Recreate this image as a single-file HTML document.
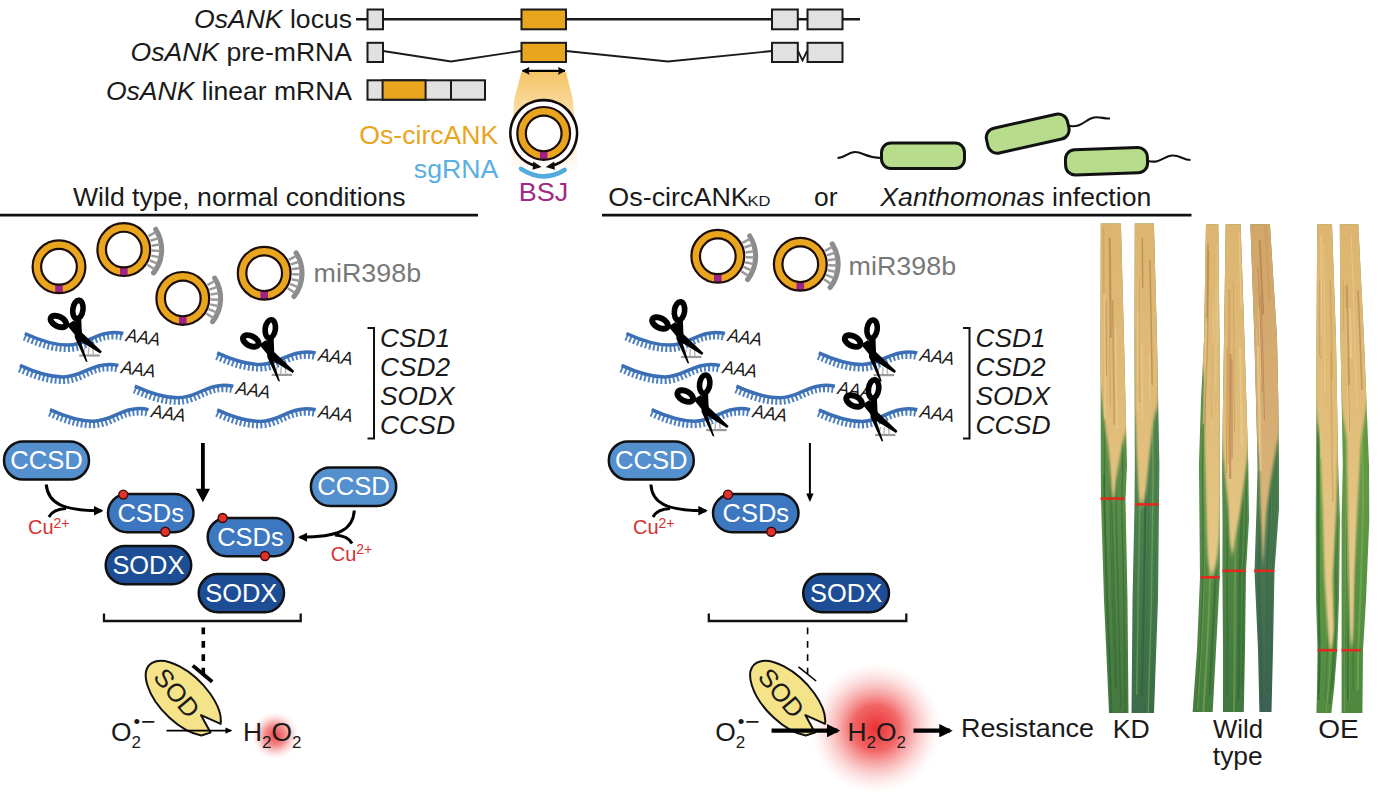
<!DOCTYPE html>
<html><head><meta charset="utf-8"><title>Os-circANK model</title>
<style>
html,body{margin:0;padding:0;background:#fff}
svg{display:block}
text{font-family:"Liberation Sans",sans-serif;font-size:26.4px;fill:#1a1a1a}
.i{font-style:italic}
.w{fill:#fff}
</style></head><body>
<svg width="1380" height="810" viewBox="0 0 1380 810">
<defs>
<marker id="ah" viewBox="0 0 10 10" refX="8" refY="5" markerWidth="4.2" markerHeight="4.2" orient="auto-start-reverse"><path d="M0,0 L10,5 L0,10 z" fill="#000"/></marker>
<marker id="ah2" viewBox="0 0 10 10" refX="8" refY="5" markerWidth="3.2" markerHeight="3.2" orient="auto-start-reverse"><path d="M0,0 L10,5 L0,10 z" fill="#000"/></marker>
<marker id="ah3" viewBox="0 0 10 10" refX="6" refY="5" markerWidth="7" markerHeight="7" orient="auto-start-reverse"><path d="M0,0 L10,5 L0,10 z" fill="#000"/></marker>
<marker id="ah4" viewBox="0 0 10 10" refX="9" refY="5" markerWidth="3.4" markerHeight="3.4" orient="auto-start-reverse"><path d="M0,0 L10,5 L0,10 L1.5,5 z" fill="#000"/></marker>
<marker id="ah5" viewBox="0 0 10 10" refX="8" refY="5" markerWidth="3.8" markerHeight="3.6" orient="auto-start-reverse"><path d="M0,0.5 L10,5 L0,9.5 z" fill="#000"/></marker>
<linearGradient id="fan" x1="0" y1="0" x2="0" y2="1"><stop offset="0" stop-color="#F5C466"/><stop offset="0.35" stop-color="#F9DA9E"/><stop offset="0.75" stop-color="#FDF0D8"/><stop offset="1" stop-color="#FFFFFF"/></linearGradient>
<radialGradient id="glow"><stop offset="0" stop-color="#E8262A" stop-opacity="0.95"/><stop offset="0.35" stop-color="#EE4040" stop-opacity="0.8"/><stop offset="0.7" stop-color="#F58080" stop-opacity="0.35"/><stop offset="1" stop-color="#FFCCCC" stop-opacity="0"/></radialGradient>
<radialGradient id="glow2"><stop offset="0" stop-color="#E83A3A" stop-opacity="0.95"/><stop offset="0.45" stop-color="#F06060" stop-opacity="0.7"/><stop offset="1" stop-color="#FFCCCC" stop-opacity="0"/></radialGradient>

<g id="ring"><circle r="22.1" fill="none" stroke="#E9A51E" stroke-width="7.6"/><rect x="-3.8" y="18" width="7.6" height="8" fill="#A0218A"/><circle r="26.4" fill="none" stroke="#1c0d08" stroke-width="2.2"/><circle r="17.85" fill="none" stroke="#1c0d08" stroke-width="2.2"/></g>
<g id="mir"><path d="M31.9,-20.3 A37.8,37.8 0 0 1 29.8,23.3" fill="none" stroke="#8C8C8C" stroke-width="5.1" stroke-linecap="round"/><path d="M24.6,-13.4L32.1,-17.4M26.6,-8.8L34.7,-11.5M27.7,-3.9L36.1,-5.1M28.0,1.0L36.5,1.3M27.4,6.0L35.7,7.8M25.9,10.7L33.7,14.0M23.6,15.1L30.7,19.7" stroke="#9A9A9A" stroke-width="2.5" fill="none"/></g>
<g id="strand"><path d="M0,0 C12,5.5 27,11.6 43,11.6 C62,11.6 70,-1 89,-1 C93,-1 96,-0.6 98.5,0" transform="translate(-0.7,3.9)" fill="none" stroke="#4C80C2" stroke-width="6.2" stroke-dasharray="1.95 2.2"/><path d="M0,0 C12,5.5 27,11.6 43,11.6 C62,11.6 70,-1 89,-1 C93,-1 96,-0.6 98.5,0" fill="none" stroke="#3B6FB5" stroke-width="3.5"/><text class="i" transform="translate(100.5,7.5) rotate(8)" style="font-size:18.5px" textLength="34.5" lengthAdjust="spacingAndGlyphs">AAA</text></g>
<g id="sc"><path d="M54.5,22 L75,22" stroke="#9a9a9a" stroke-width="2.2"/><path d="M60,14L58.5,21M64,14L63.5,21M68,13L68.5,21" stroke="#b5b5b5" stroke-width="1.4"/>
<ellipse cx="53.1" cy="-24" rx="5.1" ry="9.2" transform="rotate(8 53.1 -24)" fill="none" stroke="#000" stroke-width="5.6"/>
<ellipse cx="33.6" cy="-12" rx="8.4" ry="4.9" transform="rotate(27 33.6 -12)" fill="none" stroke="#000" stroke-width="5.9"/>
<path d="M50,-15 L56.5,-14 L57,-1 L77,18 L75.5,20 L56,8 L62.8,28.5 L61,28 L50,4 Z" fill="#000"/>
<path d="M42,-8.5 L49,-13 L57,-2 L54,6 Z" fill="#000"/></g>
</defs>
<rect width="1380" height="810" fill="#fff"/>
<g stroke="#1a1a1a" stroke-width="2" fill="none">
<path d="M356,19.3 H860" stroke-width="2.5"/>
<path d="M383,51 L451,61.5 L521,51 M566,51 L668,61.5 L772,51 M798,51 L802.5,60.5 L807,51" stroke-width="1.8"/>
<g stroke-width="2">
<rect x="367.5" y="9.5" width="15.5" height="19.8" fill="#E1E1E1"/>
<rect x="521.5" y="9.5" width="44.5" height="19.8" fill="#E9A51E"/>
<rect x="772" y="9.5" width="25.8" height="19.8" fill="#E1E1E1"/>
<rect x="807.5" y="9.5" width="35" height="19.8" fill="#E1E1E1"/>
<rect x="367.5" y="42.8" width="15.5" height="19.2" fill="#E1E1E1"/>
<rect x="521.5" y="42.8" width="44.5" height="19.2" fill="#E9A51E"/>
<rect x="772" y="42.8" width="25.8" height="19.2" fill="#E1E1E1"/>
<rect x="807.5" y="42.8" width="35" height="19.2" fill="#E1E1E1"/>
<rect x="367.5" y="80.3" width="117.5" height="19.4" fill="#E1E1E1"/>
<rect x="382.6" y="80.3" width="43" height="19.4" fill="#E9A51E"/>
<path d="M451,80.3 V99.7"/>
</g>
</g>
<path d="M521.5,72 L566,72 L573,100 L578,172 L511,172 L514,100 Z" fill="url(#fan)"/>
<path d="M522.5,70.8 H565" stroke="#000" stroke-width="2.3" marker-start="url(#ah4)" marker-end="url(#ah4)" fill="none"/>
<text x="352" y="28.4" text-anchor="end" textLength="158" lengthAdjust="spacingAndGlyphs"><tspan class="i">OsANK</tspan> locus</text>
<text x="352" y="60.9" text-anchor="end" textLength="221.5" lengthAdjust="spacingAndGlyphs"><tspan class="i">OsANK</tspan> pre-mRNA</text>
<text x="352" y="99.6" text-anchor="end" textLength="246" lengthAdjust="spacingAndGlyphs"><tspan class="i">OsANK</tspan> linear mRNA</text>
<circle cx="543.7" cy="133.4" r="33.3" fill="#fff"/>
<use href="#ring" x="543.7" y="133.4"/>
<path d="M534.5,165.4 A33.3,33.3 0 1 1 552.9,165.4" fill="none" stroke="#120a0a" stroke-width="2.7"/>
<path d="M541.6,166.9 L533.2,161.6 L532.6,169.8 Z M545.8,166.9 L554.2,161.6 L554.8,169.8 Z" fill="#120a0a"/>
<path d="M521,168.8 Q543,183.2 564.6,170" fill="none" stroke="#52AADD" stroke-width="4.6" stroke-linecap="round"/>
<text x="498.3" y="144.2" text-anchor="end" style="fill:#E9A51E" textLength="139" lengthAdjust="spacingAndGlyphs">Os-circANK</text>
<text x="498.3" y="177.8" text-anchor="end" style="fill:#5AAFE1" textLength="84.5" lengthAdjust="spacingAndGlyphs">sgRNA</text>
<text x="543.5" y="201.3" text-anchor="middle" style="fill:#A12A83" textLength="49.5" lengthAdjust="spacingAndGlyphs">BSJ</text>
<path d="M0,215.2 H478 M602,215.2 H1191.5" stroke="#111" stroke-width="2.8"/>
<text x="73" y="205.7" textLength="332.5" lengthAdjust="spacingAndGlyphs">Wild type, normal conditions</text>
<text x="608.3" y="205.7" textLength="140.5" lengthAdjust="spacingAndGlyphs">Os-circANK</text>
<text x="747.5" y="205.7" style="font-size:15.5px" textLength="23" lengthAdjust="spacingAndGlyphs">KD</text>
<text x="814" y="205.7">or</text>
<text x="880.3" y="205.7" textLength="271" lengthAdjust="spacingAndGlyphs"><tspan class="i">Xanthomonas</tspan> infection</text>
<g fill="none" stroke="#111" stroke-width="2.1">
<path d="M837.5,158 C845,158 848,152 855,152 C863,152 866,158 881,158"/>
<path d="M1067,125.5 C1082,129 1085,119 1094,117.5 C1100,116.5 1104,119 1110,118.5"/>
<path d="M1148,161 C1160,164 1164,156 1172,155.5 C1180,155 1183,160 1190.5,160"/>
</g>
<g fill="#B6DC8C" stroke="#111" stroke-width="3">
<rect x="881.5" y="143" width="83" height="25.5" rx="9.5"/>
<rect x="-41.5" y="-12.7" width="83" height="25.4" rx="9.5" transform="translate(1027.7,133.6) rotate(-12.6)"/>
<rect x="-41" y="-12.6" width="82" height="25.2" rx="9.5" transform="translate(1106.5,161.3) rotate(-2)"/>
</g>
<use href="#ring" x="59" y="266.8"/>
<use href="#mir" x="123.8" y="249.6"/>
<use href="#ring" x="123.8" y="249.6"/>
<use href="#mir" x="182.8" y="298.4"/>
<use href="#ring" x="182.8" y="298.4"/>
<use href="#mir" x="264.2" y="273.2"/>
<use href="#ring" x="264.2" y="273.2"/>
<text x="313.6" y="282.2" style="fill:#787878" textLength="107.5" lengthAdjust="spacingAndGlyphs">miR398b</text>
<g transform="translate(0,0)">
<use href="#strand" x="24.8" y="333.5"/>
<use href="#strand" x="19.9" y="365.4"/>
<use href="#strand" x="134.8" y="386.2"/>
<use href="#strand" x="50" y="409.6"/>
<use href="#strand" x="217.2" y="352.9"/>
<use href="#strand" x="217.2" y="409.8"/>
<use href="#sc" x="24.8" y="333.5"/>
<use href="#sc" x="217.2" y="352.9"/>
</g>
<use href="#mir" x="717.8" y="256.3"/>
<use href="#ring" x="717.8" y="256.3"/>
<use href="#mir" x="800.3" y="264.2"/>
<use href="#ring" x="800.3" y="264.2"/>
<text x="848.6" y="275.2" style="fill:#787878" textLength="107.5" lengthAdjust="spacingAndGlyphs">miR398b</text>
<g transform="translate(601.6,0)">
<use href="#strand" x="24.8" y="333.5"/>
<use href="#strand" x="19.9" y="365.4"/>
<use href="#strand" x="134.8" y="386.2"/>
<use href="#strand" x="50" y="409.6"/>
<use href="#strand" x="217.2" y="352.9"/>
<use href="#strand" x="217.2" y="409.8"/>
<use href="#sc" x="24.8" y="335.0"/>
<use href="#sc" x="50.0" y="408.1"/>
<use href="#sc" x="217.4" y="353.1"/>
<use href="#sc" x="218.9" y="413.0"/>
</g>
<g transform="translate(0,0)"><path d="M367.5,328 H374 V438.5 H367.5" fill="none" stroke="#111" stroke-width="2"/>
<text class="i" x="380" y="346.8" textLength="70" lengthAdjust="spacingAndGlyphs">CSD1</text>
<text class="i" x="380" y="376" textLength="70" lengthAdjust="spacingAndGlyphs">CSD2</text>
<text class="i" x="380" y="404.6" textLength="74.5" lengthAdjust="spacingAndGlyphs">SODX</text>
<text class="i" x="380" y="434" textLength="75" lengthAdjust="spacingAndGlyphs">CCSD</text>
</g>
<g transform="translate(595.5,0)"><path d="M367.5,328 H374 V438.5 H367.5" fill="none" stroke="#111" stroke-width="2"/>
<text class="i" x="380" y="346.8" textLength="70" lengthAdjust="spacingAndGlyphs">CSD1</text>
<text class="i" x="380" y="376" textLength="70" lengthAdjust="spacingAndGlyphs">CSD2</text>
<text class="i" x="380" y="404.6" textLength="74.5" lengthAdjust="spacingAndGlyphs">SODX</text>
<text class="i" x="380" y="434" textLength="75" lengthAdjust="spacingAndGlyphs">CCSD</text>
</g>
<rect x="4.0" y="441.4" width="85.0" height="38.2" rx="19.1" fill="#548FCE" stroke="#111" stroke-width="2.5"/>
<text class="w" x="46.5" y="469.1" text-anchor="middle" style="font-size:25.6px" textLength="72.5" lengthAdjust="spacingAndGlyphs">CCSD</text>
<rect x="310.9" y="467.6" width="85.3" height="38.3" rx="19.2" fill="#548FCE" stroke="#111" stroke-width="2.5"/>
<text class="w" x="353.5" y="495.4" text-anchor="middle" style="font-size:25.6px" textLength="72.5" lengthAdjust="spacingAndGlyphs">CCSD</text>
<rect x="108.0" y="493.9" width="85.5" height="38.4" rx="19.2" fill="#3D77C0" stroke="#111" stroke-width="2.5"/>
<text class="w" x="150.7" y="521.6" text-anchor="middle" style="font-size:25.6px" textLength="66.5" lengthAdjust="spacingAndGlyphs">CSDs</text>
<rect x="207.7" y="517.9" width="85.5" height="38.3" rx="19.1" fill="#3D77C0" stroke="#111" stroke-width="2.5"/>
<text class="w" x="250.4" y="545.6" text-anchor="middle" style="font-size:25.6px" textLength="66.5" lengthAdjust="spacingAndGlyphs">CSDs</text>
<rect x="105.7" y="546.0" width="85.5" height="38.3" rx="19.2" fill="#1D4E95" stroke="#111" stroke-width="2.5"/>
<text class="w" x="148.4" y="573.8" text-anchor="middle" style="font-size:25.6px" textLength="72" lengthAdjust="spacingAndGlyphs">SODX</text>
<rect x="198.7" y="574.0" width="85.3" height="38.2" rx="19.1" fill="#1D4E95" stroke="#111" stroke-width="2.5"/>
<text class="w" x="241.3" y="601.6" text-anchor="middle" style="font-size:25.6px" textLength="72" lengthAdjust="spacingAndGlyphs">SODX</text>
<circle cx="123.3" cy="494.6" r="4.5" fill="#E0312A" stroke="#3a0c0c" stroke-width="1.4"/>
<circle cx="165.3" cy="531.8" r="4.5" fill="#E0312A" stroke="#3a0c0c" stroke-width="1.4"/>
<circle cx="222.6" cy="518" r="4.5" fill="#E0312A" stroke="#3a0c0c" stroke-width="1.4"/>
<circle cx="265" cy="556" r="4.5" fill="#E0312A" stroke="#3a0c0c" stroke-width="1.4"/>
<rect x="608.8" y="441.4" width="85.0" height="38.2" rx="19.1" fill="#548FCE" stroke="#111" stroke-width="2.5"/>
<text class="w" x="651.2" y="469.1" text-anchor="middle" style="font-size:25.6px" textLength="72.5" lengthAdjust="spacingAndGlyphs">CCSD</text>
<rect x="713.0" y="493.9" width="85.5" height="38.4" rx="19.2" fill="#3D77C0" stroke="#111" stroke-width="2.5"/>
<text class="w" x="755.8" y="521.6" text-anchor="middle" style="font-size:25.6px" textLength="66.5" lengthAdjust="spacingAndGlyphs">CSDs</text>
<rect x="803.2" y="574.0" width="85.8" height="38.2" rx="19.1" fill="#1D4E95" stroke="#111" stroke-width="2.5"/>
<text class="w" x="846.1" y="601.6" text-anchor="middle" style="font-size:25.6px" textLength="72" lengthAdjust="spacingAndGlyphs">SODX</text>
<circle cx="728" cy="494.6" r="4.5" fill="#E0312A" stroke="#3a0c0c" stroke-width="1.4"/>
<circle cx="771.3" cy="531.8" r="4.5" fill="#E0312A" stroke="#3a0c0c" stroke-width="1.4"/>
<path d="M202.9,443 V492" stroke="#000" stroke-width="3.8" fill="none"/><path d="M195.8,488.8 L210,488.8 L202.9,502.2 Z" fill="#000"/>
<path d="M809.9,443 V496" stroke="#000" stroke-width="2" fill="none"/><path d="M806.2,493.4 L813.6,493.4 L809.9,502 Z" fill="#000"/>
<g fill="none" stroke="#000" stroke-width="3">
<path d="M46.2,484.5 C48,503 62,510.7 101.5,510.7" marker-end="url(#ah2)"/>
<path d="M49,517 C52,511 58,509 66,508.5"/>
<path d="M354.3,510.5 C353,530 339,537.2 299.8,537.2" marker-end="url(#ah2)"/>
<path d="M352,543.5 C349,537.5 343,535.5 335,535"/>
<path d="M650.9,484.5 C652,503 666,510.7 706,510.7" marker-end="url(#ah2)"/>
<path d="M653,517 C656,511 662,509 670,508.5"/>
</g>
<text x="28" y="534" style="fill:#D63030;font-size:20px">Cu<tspan dy="-6.5" style="font-size:14px">2+</tspan></text>
<text x="330.7" y="560.5" style="fill:#D63030;font-size:20px">Cu<tspan dy="-6.5" style="font-size:14px">2+</tspan></text>
<text x="633" y="534" style="fill:#D63030;font-size:20px">Cu<tspan dy="-6.5" style="font-size:14px">2+</tspan></text>
<path d="M104,613.5 V621 H300.7 V613.5 M708.8,613.5 V621 H906.3 V613.5" fill="none" stroke="#111" stroke-width="2.3"/>
<path d="M203.3,627.5 V674" stroke="#000" stroke-width="3.6" stroke-dasharray="6.8 6.6" fill="none"/>
<path d="M192.8,665.6 L212.2,681.7" stroke="#000" stroke-width="3.8" fill="none"/>
<path d="M807.6,627.5 V674" stroke="#000" stroke-width="1.6" stroke-dasharray="6.8 6.6" fill="none"/>
<path d="M798.5,666.9 L816.1,681" stroke="#000" stroke-width="1.6" fill="none"/>
<circle cx="275.3" cy="735.5" r="24" fill="url(#glow2)"/>
<circle cx="875.5" cy="728" r="66" fill="url(#glow)"/>
<g transform="translate(0,0)">
<g transform="translate(183.3,698.3) rotate(45)"><path d="M44.5,-8.3 A47.5,23.6 0 1 0 39,13.5 L43.5,5 L24.5,-0.6 Z" fill="#F5E389" stroke="#111" stroke-width="2" stroke-linejoin="round"/></g>
<text transform="translate(177,693) rotate(50)" text-anchor="middle" y="9" style="font-size:25.5px">SOD</text>
</g>
<g transform="translate(604.4,0)">
<g transform="translate(183.3,698.3) rotate(45)"><path d="M44.5,-8.3 A47.5,23.6 0 1 0 39,13.5 L43.5,5 L24.5,-0.6 Z" fill="#F5E389" stroke="#111" stroke-width="2" stroke-linejoin="round"/></g>
<text transform="translate(177,693) rotate(50)" text-anchor="middle" y="9" style="font-size:25.5px">SOD</text>
</g>
<text x="111" y="740.5">O<tspan dy="7" style="font-size:17px">2</tspan></text>
<text x="133.5" y="728.0" style="font-size:19px">•<tspan dx="0.8" dy="2.3" style="font-size:25px">−</tspan></text>
<text x="243" y="740.5">H<tspan dy="7" style="font-size:17px">2</tspan><tspan dy="-7">O</tspan><tspan dy="7" style="font-size:17px">2</tspan></text>
<text x="715.2" y="740.5">O<tspan dy="7" style="font-size:17px">2</tspan></text>
<text x="737.7" y="728.0" style="font-size:19px">•<tspan dx="0.8" dy="2.3" style="font-size:25px">−</tspan></text>
<text x="847.4" y="740.5">H<tspan dy="7" style="font-size:17px">2</tspan><tspan dy="-7">O</tspan><tspan dy="7" style="font-size:17px">2</tspan></text>
<path d="M166.5,730.6 H231" stroke="#000" stroke-width="1.9" marker-end="url(#ah5)" fill="none"/>
<path d="M771.6,730.7 H837.5" stroke="#000" stroke-width="4.2" marker-end="url(#ah2)" fill="none"/>
<path d="M913.5,730.7 H950" stroke="#000" stroke-width="4.2" marker-end="url(#ah2)" fill="none"/>
<text x="961" y="737" textLength="133" lengthAdjust="spacingAndGlyphs">Resistance</text>
<text x="1112.8" y="737.5" textLength="37" lengthAdjust="spacingAndGlyphs">KD</text>
<text x="1238" y="737.5" text-anchor="middle" textLength="50" lengthAdjust="spacingAndGlyphs">Wild</text>
<text x="1237.8" y="765" text-anchor="middle">type</text>
<text x="1318.3" y="737.5" textLength="40.5" lengthAdjust="spacingAndGlyphs">OE</text>
<defs><filter id="bl" x="-20%" y="-5%" width="140%" height="110%"><feGaussianBlur stdDeviation="1.3 4"/></filter><linearGradient id="tang" gradientUnits="userSpaceOnUse" x1="0" y1="224" x2="0" y2="640"><stop offset="0" stop-color="#DDB56F"/><stop offset="0.45" stop-color="#E0BC78"/><stop offset="1" stop-color="#E8CE8E"/></linearGradient><linearGradient id="tang5" gradientUnits="userSpaceOnUse" x1="0" y1="224" x2="0" y2="640"><stop offset="0" stop-color="#D2A669"/><stop offset="0.5" stop-color="#D6AE74"/><stop offset="1" stop-color="#DDBF84"/></linearGradient><clipPath id="lc0"><path d="M1100.8,223.6 L1100.5,340.0 L1100.8,465.0 L1101.0,500.0 L1104.0,600.0 L1109.0,713.0 L1128.5,713.0 L1127.5,600.0 L1125.5,500.0 L1127.0,465.0 L1124.0,340.0 L1120.9,223.6 Z"/></clipPath><linearGradient id="lg0" x1="0" y1="0" x2="0" y2="1"><stop offset="0" stop-color="#5A8E48"/><stop offset="0.55" stop-color="#5A8E48"/><stop offset="1" stop-color="#44783F"/></linearGradient><clipPath id="lc1"><path d="M1134.8,223.6 L1134.5,340.0 L1134.8,465.0 L1134.5,505.0 L1132.5,600.0 L1131.5,713.0 L1154.0,713.0 L1158.0,600.0 L1159.0,505.0 L1159.4,465.0 L1157.0,340.0 L1153.9,223.6 Z"/></clipPath><linearGradient id="lg1" x1="0" y1="0" x2="0" y2="1"><stop offset="0" stop-color="#4E8350"/><stop offset="0.55" stop-color="#4E8350"/><stop offset="1" stop-color="#3B6B4A"/></linearGradient><clipPath id="lc2"><path d="M1206.0,224.3 L1204.0,340.0 L1201.0,400.0 L1198.9,465.0 L1200.0,577.0 L1197.0,650.0 L1192.6,712.0 L1212.7,712.0 L1216.0,650.0 L1219.8,577.0 L1219.8,465.0 L1219.8,400.0 L1219.5,340.0 L1218.3,224.3 Z"/></clipPath><linearGradient id="lg2" x1="0" y1="0" x2="0" y2="1"><stop offset="0" stop-color="#5C9048"/><stop offset="0.55" stop-color="#5C9048"/><stop offset="1" stop-color="#477C40"/></linearGradient><clipPath id="lc3"><path d="M1225.7,224.3 L1224.0,340.0 L1222.0,465.0 L1222.5,520.0 L1222.4,571.0 L1223.0,650.0 L1223.0,712.0 L1243.8,712.0 L1245.0,650.0 L1246.0,571.0 L1249.0,520.0 L1248.3,465.0 L1244.5,340.0 L1240.6,224.3 Z"/></clipPath><linearGradient id="lg3" x1="0" y1="0" x2="0" y2="1"><stop offset="0" stop-color="#578B46"/><stop offset="0.55" stop-color="#578B46"/><stop offset="1" stop-color="#41773F"/></linearGradient><clipPath id="lc4"><path d="M1250.4,224.3 L1254.4,338.0 L1256.0,400.0 L1257.0,440.0 L1257.5,470.0 L1256.5,509.0 L1254.5,571.0 L1258.0,650.0 L1259.4,712.0 L1271.5,712.0 L1273.0,650.0 L1274.5,571.0 L1279.0,509.0 L1279.0,470.0 L1278.8,440.0 L1278.3,400.0 L1277.0,338.0 L1269.9,224.3 Z"/></clipPath><linearGradient id="lg4" x1="0" y1="0" x2="0" y2="1"><stop offset="0" stop-color="#4E7F50"/><stop offset="0.55" stop-color="#4E7F50"/><stop offset="1" stop-color="#3C5F5A"/></linearGradient><clipPath id="lc5"><path d="M1317.2,224.3 L1316.5,340.0 L1316.0,465.0 L1315.7,520.0 L1316.0,600.0 L1317.5,650.0 L1317.0,690.0 L1316.4,713.0 L1331.3,713.0 L1334.0,690.0 L1337.2,650.0 L1339.0,600.0 L1340.0,520.0 L1338.2,465.0 L1336.0,340.0 L1332.0,224.3 Z"/></clipPath><linearGradient id="lg5" x1="0" y1="0" x2="0" y2="1"><stop offset="0" stop-color="#659C46"/><stop offset="0.55" stop-color="#659C46"/><stop offset="1" stop-color="#518A40"/></linearGradient><clipPath id="lc6"><path d="M1339.8,224.3 L1340.5,340.0 L1342.8,465.0 L1341.6,520.0 L1341.6,600.0 L1341.6,650.0 L1341.6,713.0 L1362.4,713.0 L1363.0,650.0 L1366.0,600.0 L1369.3,520.0 L1369.0,465.0 L1364.0,340.0 L1358.3,224.3 Z"/></clipPath><linearGradient id="lg6" x1="0" y1="0" x2="0" y2="1"><stop offset="0" stop-color="#619844"/><stop offset="0.55" stop-color="#619844"/><stop offset="1" stop-color="#4D873E"/></linearGradient></defs>
<g clip-path="url(#lc0)">
<rect x="1098.5" y="220" width="32.0" height="497" fill="url(#lg0)"/>
<polyline points="1109.6,419 1109.9,449 1109.9,479 1109.9,509 1110.7,539 1111.5,569 1112.2,599 1113.2,629 1114.1,659 1115.1,689" fill="none" stroke="#2E6436" stroke-width="1" opacity="0.55"/>
<polyline points="1104.2,416 1104.4,446 1104.5,476 1104.6,506 1105.5,536 1106.3,566 1107.2,596 1108.3,626 1109.5,656 1110.7,686" fill="none" stroke="#2E6436" stroke-width="1" opacity="0.55"/>
<polyline points="1121.2,383 1121.8,413 1122.5,443 1122.6,473 1121.7,503 1122.4,533 1123.0,563 1123.7,593 1124.2,623 1124.6,653 1125.0,683 1125.5,713" fill="none" stroke="#2E6436" stroke-width="1.4" opacity="0.55"/>
<polyline points="1111.2,389 1111.6,419 1111.9,449 1111.9,479 1111.8,509 1112.6,539 1113.3,569 1114.1,599 1115.0,629 1115.8,659 1116.7,689" fill="none" stroke="#2E6436" stroke-width="1.4" opacity="0.55"/>
<polyline points="1104.2,474 1104.3,504 1105.2,534 1106.0,564 1106.9,594 1108.0,624 1109.2,654 1110.4,684 1111.5,714" fill="none" stroke="#2E6436" stroke-width="2" opacity="0.55"/>
<polyline points="1116.3,437 1116.7,467 1115.9,497 1116.5,527 1117.2,557 1118.0,587 1118.7,617 1119.3,647 1120.0,677 1120.7,707" fill="none" stroke="#2E6436" stroke-width="1.4" opacity="0.55"/>
<path d="M1095.5,215.0 L1095.5,370.0 L1100.0,385.0 L1102.0,400.0 L1105.5,430.0 L1108.0,445.0 L1109.5,460.0 L1111.0,480.0 L1112.0,497.0 L1114.5,497.0 L1116.0,480.0 L1119.5,460.0 L1122.0,445.0 L1127.0,430.0 L1128.0,400.0 L1128.0,385.0 L1133.5,370.0 L1133.5,215.0 Z" fill="url(#tang)" filter="url(#bl)"/>
<polyline points="1103.6,228 1103.7,253 1103.7,278 1103.7,303 1103.8,328 1103.9,353 1104.0,378 1104.1,403" fill="none" stroke="#C89A5E" stroke-width="1.5" opacity="0.6"/>
<polyline points="1109.7,238 1110.0,263 1110.2,288 1110.5,313 1110.7,338" fill="none" stroke="#B07A4C" stroke-width="2.2" opacity="0.6"/>
<polyline points="1106.1,301 1106.2,326 1106.3,351 1106.5,376" fill="none" stroke="#B07A4C" stroke-width="1" opacity="0.6"/>
<polyline points="1112.6,300 1112.9,325 1113.3,350 1113.6,375 1114.0,400 1114.3,425" fill="none" stroke="#B98452" stroke-width="1.5" opacity="0.6"/>
<polyline points="1115.5,329 1115.9,354 1116.3,379 1116.7,404 1117.1,429" fill="none" stroke="#EBCF96" stroke-width="1.5" opacity="0.6"/>
<polyline points="1109.6,332 1109.8,357 1110.1,382 1110.4,407" fill="none" stroke="#C89A5E" stroke-width="1" opacity="0.6"/>
<polyline points="1104.3,294 1104.3,319 1104.4,344 1104.6,369 1104.7,394 1104.9,419" fill="none" stroke="#EBCF96" stroke-width="2.2" opacity="0.6"/>
</g>
<path d="M1100.5,498.6 H1124.5" stroke="#E02A1F" stroke-width="2.6"/>
<g clip-path="url(#lc1)">
<rect x="1129.5" y="220" width="31.9" height="497" fill="url(#lg1)"/>
<polyline points="1145.3,391 1145.6,421 1145.9,451 1145.9,481 1145.6,511 1145.1,541 1144.6,571 1144.1,601 1143.5,631 1142.9,661 1142.2,691" fill="none" stroke="#2E6436" stroke-width="1.4" opacity="0.55"/>
<polyline points="1139.8,395 1139.9,425 1140.1,455 1140.0,485 1139.7,515 1139.1,545 1138.5,575 1138.0,605 1137.6,635 1137.1,665 1136.7,695" fill="none" stroke="#7DB255" stroke-width="1.4" opacity="0.55"/>
<polyline points="1145.4,456 1145.3,486 1145.0,516 1144.5,546 1144.0,576 1143.5,606 1142.8,636 1142.2,666 1141.6,696" fill="none" stroke="#2E6436" stroke-width="2" opacity="0.55"/>
<polyline points="1152.3,414 1152.8,444 1153.0,474 1152.7,504 1152.3,534 1151.9,564 1151.5,594 1150.8,624 1149.9,654 1149.0,684 1148.2,714" fill="none" stroke="#7DB255" stroke-width="1.4" opacity="0.55"/>
<polyline points="1148.1,386 1148.5,416 1148.8,446 1149.0,476 1148.7,506 1148.2,536 1147.8,566 1147.3,596 1146.6,626 1145.9,656 1145.2,686" fill="none" stroke="#3A7040" stroke-width="1" opacity="0.55"/>
<polyline points="1156.0,449 1156.2,479 1155.9,509 1155.5,539 1155.1,569 1154.8,599 1153.8,629 1152.9,659 1151.9,689" fill="none" stroke="#3A7040" stroke-width="1" opacity="0.55"/>
<path d="M1126.5,215.0 L1126.5,315.0 L1134.0,330.0 L1134.5,405.0 L1135.5,420.0 L1136.5,450.0 L1137.5,470.0 L1138.5,490.0 L1139.5,503.0 L1144.0,503.0 L1146.0,490.0 L1148.0,470.0 L1150.0,450.0 L1153.5,420.0 L1158.0,405.0 L1160.0,330.0 L1164.4,315.0 L1164.4,215.0 Z" fill="url(#tang)" filter="url(#bl)"/>
<polyline points="1137.8,311 1137.8,336 1137.9,361 1138.1,386 1138.2,411" fill="none" stroke="#EBCF96" stroke-width="1.5" opacity="0.6"/>
<polyline points="1141.9,344 1142.1,369 1142.3,394 1142.5,419" fill="none" stroke="#EBCF96" stroke-width="1.5" opacity="0.6"/>
<polyline points="1142.3,238 1142.5,263 1142.7,288" fill="none" stroke="#B07A4C" stroke-width="1.5" opacity="0.6"/>
<polyline points="1138.9,277 1138.9,302 1139.0,327 1139.1,352 1139.3,377 1139.4,402" fill="none" stroke="#C89A5E" stroke-width="1.5" opacity="0.6"/>
<polyline points="1138.1,277 1138.1,302 1138.2,327 1138.3,352 1138.4,377" fill="none" stroke="#EBCF96" stroke-width="1" opacity="0.6"/>
<polyline points="1149.9,260 1150.4,285 1150.9,310 1151.4,335 1151.8,360 1152.2,385" fill="none" stroke="#B07A4C" stroke-width="1.5" opacity="0.6"/>
<polyline points="1149.2,354 1149.6,379 1149.9,404" fill="none" stroke="#EBCF96" stroke-width="1" opacity="0.6"/>
</g>
<path d="M1135,504.4 H1158.5" stroke="#E02A1F" stroke-width="2.6"/>
<g clip-path="url(#lc2)">
<rect x="1190.6" y="220" width="31.2" height="497" fill="url(#lg2)"/>
<polyline points="1205.6,381 1204.6,411 1203.8,441 1203.3,471 1203.5,501 1203.7,531 1204.0,561 1203.5,591 1202.2,621 1200.9,651 1198.8,681 1196.8,711" fill="none" stroke="#2E6436" stroke-width="2" opacity="0.55"/>
<polyline points="1206.1,380 1205.1,410 1204.4,440 1203.8,470 1204.0,500 1204.3,530 1204.5,560 1204.0,590 1202.7,620 1201.4,650 1199.4,680 1197.4,710" fill="none" stroke="#7DB255" stroke-width="1.4" opacity="0.55"/>
<polyline points="1210.0,475 1210.1,505 1210.3,535 1210.4,565 1209.6,595 1208.2,625 1206.7,655 1204.9,685 1203.2,715" fill="none" stroke="#7DB255" stroke-width="2" opacity="0.55"/>
<polyline points="1215.9,425 1215.7,455 1215.7,485 1215.8,515 1215.8,545 1215.9,575 1214.5,605 1213.0,635 1211.4,665 1209.7,695" fill="none" stroke="#2E6436" stroke-width="2" opacity="0.55"/>
<polyline points="1215.0,419 1214.7,449 1214.6,479 1214.7,509 1214.8,539 1214.8,569 1213.8,599 1212.3,629 1210.7,659 1209.0,689" fill="none" stroke="#3A7040" stroke-width="1.4" opacity="0.55"/>
<polyline points="1204.7,386 1203.7,416 1202.9,446 1202.5,476 1202.7,506 1203.0,536 1203.2,566 1202.5,596 1201.2,626 1199.8,656 1197.7,686" fill="none" stroke="#3A7040" stroke-width="1" opacity="0.55"/>
<path d="M1187.6,215.0 L1187.6,335.0 L1199.0,350.0 L1204.5,378.0 L1204.5,440.0 L1206.0,500.0 L1207.0,540.0 L1208.0,560.0 L1210.0,574.0 L1214.0,574.0 L1217.0,560.0 L1219.0,540.0 L1220.5,500.0 L1221.0,440.0 L1221.0,378.0 L1221.0,350.0 L1224.8,335.0 L1224.8,215.0 Z" fill="url(#tang)" filter="url(#bl)"/>
<polyline points="1217.1,244 1217.2,269 1217.4,294 1217.6,319 1217.8,344" fill="none" stroke="#EBCF96" stroke-width="1" opacity="0.6"/>
<polyline points="1208.0,243 1207.7,268 1207.4,293 1207.1,318" fill="none" stroke="#B07A4C" stroke-width="1.5" opacity="0.6"/>
<polyline points="1213.1,343 1212.7,368 1212.2,393 1211.9,418" fill="none" stroke="#B98452" stroke-width="1" opacity="0.6"/>
<polyline points="1213.4,305 1213.4,330 1213.2,355 1212.8,380 1212.4,405 1212.0,430" fill="none" stroke="#EBCF96" stroke-width="1" opacity="0.6"/>
<polyline points="1215.9,288 1216.0,313 1216.1,338 1215.9,363 1215.7,388" fill="none" stroke="#EBCF96" stroke-width="1" opacity="0.6"/>
<polyline points="1207.0,324 1206.5,349 1205.5,374 1204.5,399 1203.8,424" fill="none" stroke="#EBCF96" stroke-width="2.2" opacity="0.6"/>
<polyline points="1208.5,250 1208.3,275 1208.0,300 1207.7,325 1207.2,350 1206.2,375 1205.3,400 1204.7,425" fill="none" stroke="#B98452" stroke-width="1.5" opacity="0.6"/>
</g>
<path d="M1200.5,577.3 H1219.6" stroke="#E02A1F" stroke-width="2.6"/>
<g clip-path="url(#lc3)">
<rect x="1220.0" y="220" width="31.0" height="497" fill="url(#lg3)"/>
<polyline points="1227.4,455 1227.5,485 1227.8,515 1227.5,545 1227.2,575 1227.3,605 1227.4,635 1227.4,665 1227.3,695" fill="none" stroke="#2E6436" stroke-width="1.4" opacity="0.55"/>
<polyline points="1245.3,449 1245.9,479 1246.3,509 1245.4,539 1243.8,569 1243.4,599 1243.1,629 1242.7,659 1242.2,689" fill="none" stroke="#2E6436" stroke-width="1.4" opacity="0.55"/>
<polyline points="1235.2,415 1235.4,445 1235.7,475 1236.0,505 1235.7,535 1234.8,565 1234.5,595 1234.4,625 1234.3,655 1234.0,685 1233.7,715" fill="none" stroke="#2E6436" stroke-width="1" opacity="0.55"/>
<polyline points="1235.7,443 1236.0,473 1236.3,503 1236.1,533 1235.1,563 1234.8,593 1234.7,623 1234.6,653 1234.3,683 1234.0,713" fill="none" stroke="#7DB255" stroke-width="2" opacity="0.55"/>
<polyline points="1241.9,460 1242.3,490 1242.7,520 1241.3,550 1240.3,580 1240.1,610 1239.8,640 1239.5,670 1239.0,700" fill="none" stroke="#2E6436" stroke-width="1.4" opacity="0.55"/>
<polyline points="1239.4,399 1239.9,429 1240.3,459 1240.7,489 1241.1,519 1239.9,549 1238.9,579 1238.7,609 1238.5,639 1238.2,669 1237.8,699" fill="none" stroke="#2E6436" stroke-width="1.4" opacity="0.55"/>
<path d="M1217.0,215.0 L1217.0,415.0 L1221.0,430.0 L1223.5,460.0 L1225.5,480.0 L1228.3,509.0 L1229.5,537.0 L1231.0,552.0 L1233.5,552.0 L1235.5,537.0 L1240.5,509.0 L1244.5,480.0 L1247.0,460.0 L1250.0,430.0 L1254.0,415.0 L1254.0,215.0 Z" fill="url(#tang)" filter="url(#bl)"/>
<polyline points="1231.9,359 1232.0,384 1232.0,409 1232.1,434 1232.1,459" fill="none" stroke="#B98452" stroke-width="1.5" opacity="0.6"/>
<polyline points="1230.3,354 1230.2,379 1230.2,404 1230.1,429 1230.1,454 1230.2,479" fill="none" stroke="#B07A4C" stroke-width="2.2" opacity="0.6"/>
<polyline points="1239.2,233 1239.9,258 1240.6,283 1241.3,308" fill="none" stroke="#EBCF96" stroke-width="1.5" opacity="0.6"/>
<polyline points="1229.4,289 1229.3,314 1229.3,339 1229.2,364 1229.1,389 1229.0,414 1228.9,439 1228.8,464" fill="none" stroke="#C89A5E" stroke-width="2.2" opacity="0.6"/>
<polyline points="1240.0,347 1240.5,372 1241.0,397 1241.5,422 1242.0,447" fill="none" stroke="#EBCF96" stroke-width="2.2" opacity="0.6"/>
<polyline points="1227.4,348 1227.2,373 1227.0,398 1226.8,423 1226.6,448 1226.5,473" fill="none" stroke="#B98452" stroke-width="1" opacity="0.6"/>
<polyline points="1233.4,282 1233.6,307 1233.8,332 1234.0,357 1234.2,382 1234.3,407 1234.5,432" fill="none" stroke="#C89A5E" stroke-width="1" opacity="0.6"/>
</g>
<path d="M1222.4,570.8 H1245.5" stroke="#E02A1F" stroke-width="2.6"/>
<g clip-path="url(#lc4)">
<rect x="1248.4" y="220" width="32.6" height="497" fill="url(#lg4)"/>
<polyline points="1273.2,426 1273.6,456 1273.6,486 1273.0,516 1271.1,546 1269.5,576 1269.4,606 1269.3,636 1269.1,666 1268.7,696" fill="none" stroke="#3A7040" stroke-width="2" opacity="0.55"/>
<polyline points="1275.5,397 1275.9,427 1276.2,457 1276.3,487 1275.7,517 1273.6,547 1271.9,577 1271.6,607 1271.3,637 1270.8,667 1270.3,697" fill="none" stroke="#2E6436" stroke-width="1" opacity="0.55"/>
<polyline points="1259.6,460 1259.3,490 1258.4,520 1257.3,550 1256.9,580 1258.0,610 1259.2,640 1259.9,670 1260.4,700" fill="none" stroke="#3A7040" stroke-width="1" opacity="0.55"/>
<polyline points="1270.0,445 1270.2,475 1269.9,505 1268.4,535 1266.7,565 1266.5,595 1266.7,625 1266.9,655 1266.7,685 1266.6,715" fill="none" stroke="#3A7040" stroke-width="1.4" opacity="0.55"/>
<polyline points="1260.3,382 1261.0,412 1261.6,442 1262.0,472 1261.4,502 1260.3,532 1259.1,562 1259.4,592 1260.3,622 1261.2,652 1261.6,682 1262.0,712" fill="none" stroke="#2E6436" stroke-width="2" opacity="0.55"/>
<polyline points="1270.3,423 1270.8,453 1270.8,483 1270.3,513 1268.6,543 1267.0,573 1267.2,603 1267.3,633 1267.3,663 1267.1,693" fill="none" stroke="#2E6436" stroke-width="1" opacity="0.55"/>
<path d="M1245.4,215.0 L1245.4,415.0 L1255.0,430.0 L1258.0,450.0 L1259.6,475.0 L1260.5,509.0 L1262.0,540.0 L1262.5,560.0 L1263.5,560.0 L1264.5,540.0 L1266.5,509.0 L1271.5,475.0 L1276.0,450.0 L1280.0,430.0 L1284.0,415.0 L1284.0,215.0 Z" fill="url(#tang5)" filter="url(#bl)"/>
<polyline points="1265.3,226 1266.7,251 1268.1,276 1269.5,301" fill="none" stroke="#C89A5E" stroke-width="2.2" opacity="0.6"/>
<polyline points="1257.9,267 1259.0,292 1260.1,317 1261.1,342 1261.7,367 1262.3,392" fill="none" stroke="#B07A4C" stroke-width="1" opacity="0.6"/>
<polyline points="1258.0,346 1258.6,371 1259.2,396 1259.8,421 1260.3,446 1260.7,471" fill="none" stroke="#EBCF96" stroke-width="2.2" opacity="0.6"/>
<polyline points="1259.7,240 1260.8,265 1262.0,290 1263.2,315" fill="none" stroke="#B07A4C" stroke-width="2.2" opacity="0.6"/>
<polyline points="1256.7,329 1257.4,354 1258.0,379 1258.7,404 1259.3,429 1259.7,454" fill="none" stroke="#EBCF96" stroke-width="1" opacity="0.6"/>
<polyline points="1258.5,307 1259.5,332 1260.3,357 1260.9,382" fill="none" stroke="#EBCF96" stroke-width="1" opacity="0.6"/>
<polyline points="1260.6,295 1261.8,320 1262.7,345 1263.3,370 1263.9,395 1264.5,420" fill="none" stroke="#B07A4C" stroke-width="1" opacity="0.6"/>
</g>
<path d="M1254.2,570.8 H1274.3" stroke="#E02A1F" stroke-width="2.6"/>
<g clip-path="url(#lc5)">
<rect x="1313.7" y="220" width="28.3" height="497" fill="url(#lg5)"/>
<polyline points="1333.4,404 1333.8,434 1334.2,464 1335.0,494 1335.6,524 1335.3,554 1335.1,584 1334.6,614 1333.8,644 1332.1,674 1329.6,704" fill="none" stroke="#2E6436" stroke-width="1.4" opacity="0.55"/>
<polyline points="1318.6,430 1318.6,460 1318.5,490 1318.5,520 1318.6,550 1318.6,580 1318.9,610 1319.6,640 1319.4,670 1318.6,700" fill="none" stroke="#2E6436" stroke-width="2" opacity="0.55"/>
<polyline points="1318.4,424 1318.3,454 1318.3,484 1318.2,514 1318.3,544 1318.3,574 1318.5,604 1319.2,634 1319.3,664 1318.6,694" fill="none" stroke="#2E6436" stroke-width="2" opacity="0.55"/>
<polyline points="1335.7,449 1336.3,479 1337.2,509 1337.3,539 1337.0,569 1336.7,599 1335.8,629 1334.5,659 1332.3,689" fill="none" stroke="#2E6436" stroke-width="1.4" opacity="0.55"/>
<polyline points="1327.0,430 1327.2,460 1327.6,490 1328.0,520 1327.9,550 1327.7,580 1327.6,610 1327.5,640 1326.6,670 1324.9,700" fill="none" stroke="#3A7040" stroke-width="1" opacity="0.55"/>
<polyline points="1331.0,472 1331.6,502 1331.8,532 1331.6,562 1331.4,592 1331.0,622 1330.5,652 1328.8,682 1326.4,712" fill="none" stroke="#7DB255" stroke-width="1" opacity="0.55"/>
<path d="M1310.7,215.0 L1310.7,385.0 L1315.0,400.0 L1319.9,440.0 L1322.6,509.0 L1324.5,578.0 L1327.8,630.0 L1329.5,648.0 L1332.0,648.0 L1334.0,630.0 L1332.5,578.0 L1336.5,509.0 L1338.4,440.0 L1341.0,400.0 L1345.0,385.0 L1345.0,215.0 Z" fill="url(#tang)" filter="url(#bl)"/>
<polyline points="1330.0,279 1330.7,304 1331.3,329 1331.7,354 1332.1,379" fill="none" stroke="#C89A5E" stroke-width="1.5" opacity="0.6"/>
<polyline points="1319.6,281 1319.6,306 1319.6,331 1319.6,356" fill="none" stroke="#C89A5E" stroke-width="1.5" opacity="0.6"/>
<polyline points="1330.8,352 1331.1,377 1331.4,402 1331.7,427 1332.0,452 1332.4,477 1333.0,502" fill="none" stroke="#C89A5E" stroke-width="1.5" opacity="0.6"/>
<polyline points="1320.7,356 1320.7,381 1320.7,406 1320.7,431" fill="none" stroke="#C89A5E" stroke-width="1" opacity="0.6"/>
<polyline points="1323.6,244 1323.9,269 1324.2,294 1324.4,319 1324.7,344 1324.8,369 1324.9,394" fill="none" stroke="#EBCF96" stroke-width="1" opacity="0.6"/>
<polyline points="1321.0,359 1321.0,384 1321.0,409 1321.1,434 1321.1,459" fill="none" stroke="#EBCF96" stroke-width="1.5" opacity="0.6"/>
<polyline points="1321.0,235 1321.2,260 1321.3,285 1321.4,310 1321.5,335" fill="none" stroke="#EBCF96" stroke-width="1.5" opacity="0.6"/>
</g>
<path d="M1317.5,650.2 H1337.2" stroke="#E02A1F" stroke-width="2.6"/>
<g clip-path="url(#lc6)">
<rect x="1337.8" y="220" width="33.5" height="497" fill="url(#lg6)"/>
<polyline points="1356.6,450 1357.0,480 1356.8,510 1356.3,540 1355.6,570 1354.9,600 1353.9,630 1353.2,660 1353.1,690" fill="none" stroke="#3A7040" stroke-width="1.4" opacity="0.55"/>
<polyline points="1351.3,431 1352.1,461 1351.9,491 1351.5,521 1351.1,551 1350.6,581 1350.1,611 1349.5,641 1349.2,671 1349.1,701" fill="none" stroke="#7DB255" stroke-width="1" opacity="0.55"/>
<polyline points="1347.2,477 1346.7,507 1346.3,537 1346.1,567 1345.9,597 1345.6,627 1345.3,657 1345.3,687" fill="none" stroke="#2E6436" stroke-width="1" opacity="0.55"/>
<polyline points="1345.0,383 1345.6,413 1346.3,443 1346.6,473 1346.1,503 1345.7,533 1345.5,563 1345.3,593 1345.1,623 1344.8,653 1344.8,683 1344.7,713" fill="none" stroke="#7DB255" stroke-width="1" opacity="0.55"/>
<polyline points="1350.7,461 1350.5,491 1350.1,521 1349.7,551 1349.3,581 1348.9,611 1348.3,641 1348.1,671 1348.0,701" fill="none" stroke="#2E6436" stroke-width="2" opacity="0.55"/>
<polyline points="1361.3,420 1362.4,450 1362.9,480 1362.9,510 1362.2,540 1361.3,570 1360.3,600 1359.0,630 1358.0,660 1357.7,690" fill="none" stroke="#7DB255" stroke-width="2" opacity="0.55"/>
<path d="M1334.8,215.0 L1334.8,360.0 L1339.0,375.0 L1342.0,410.0 L1346.8,440.0 L1347.5,509.0 L1348.6,578.0 L1350.0,630.0 L1351.0,645.0 L1352.5,645.0 L1353.5,630.0 L1354.5,578.0 L1357.5,509.0 L1361.0,440.0 L1366.0,410.0 L1370.0,375.0 L1374.3,360.0 L1374.3,215.0 Z" fill="url(#tang)" filter="url(#bl)"/>
<polyline points="1358.0,290 1359.1,315 1360.1,340 1361.1,365 1362.0,390" fill="none" stroke="#B07A4C" stroke-width="1.5" opacity="0.6"/>
<polyline points="1343.2,281 1343.5,306 1343.8,331" fill="none" stroke="#C89A5E" stroke-width="1" opacity="0.6"/>
<polyline points="1351.3,234 1352.1,259 1353.0,284 1353.8,309 1354.6,334 1355.4,359 1356.2,384 1356.9,409" fill="none" stroke="#EBCF96" stroke-width="1" opacity="0.6"/>
<polyline points="1346.7,285 1347.2,310 1347.7,335 1348.3,360 1348.9,385" fill="none" stroke="#B98452" stroke-width="2.2" opacity="0.6"/>
<polyline points="1349.9,308 1350.5,333 1351.2,358" fill="none" stroke="#EBCF96" stroke-width="2.2" opacity="0.6"/>
<polyline points="1347.7,356 1348.3,381 1349.0,406 1349.6,431" fill="none" stroke="#B98452" stroke-width="1" opacity="0.6"/>
<polyline points="1346.1,309 1346.5,334 1347.1,359 1347.7,384 1348.3,409 1348.9,434" fill="none" stroke="#EBCF96" stroke-width="1" opacity="0.6"/>
</g>
<path d="M1341.6,650.2 H1360.7" stroke="#E02A1F" stroke-width="2.6"/>
</svg></body></html>
